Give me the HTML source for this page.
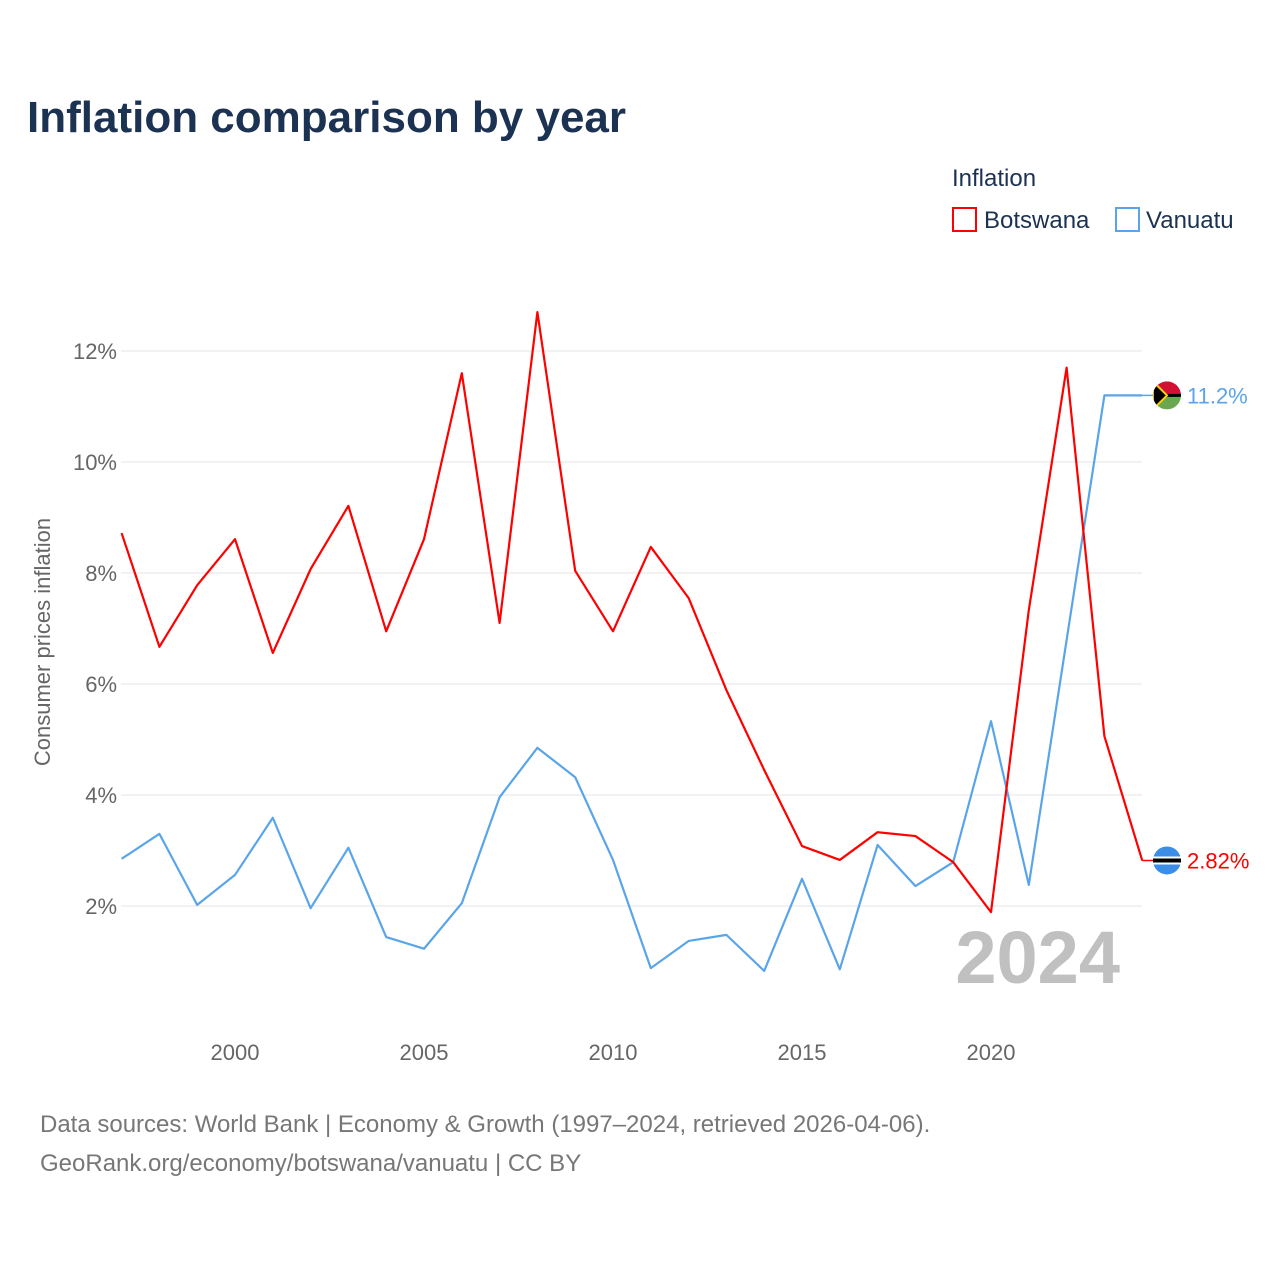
<!DOCTYPE html>
<html><head><meta charset="utf-8"><style>
body{margin:0;background:#fff;font-family:"Liberation Sans",sans-serif}
</style></head><body>
<svg width="1280" height="1280" xmlns="http://www.w3.org/2000/svg" font-family="Liberation Sans, sans-serif">
<text x="27" y="132" font-size="44" font-weight="bold" fill="#1b3252">Inflation comparison by year</text>
<text x="952" y="186" font-size="24" fill="#1b3252">Inflation</text>
<g><rect x="953" y="208" width="23" height="23" fill="none" stroke="#f00" stroke-width="2"/><text x="984" y="228" font-size="24" fill="#1b3252">Botswana</text></g>
<g><rect x="1116" y="208" width="23" height="23" fill="none" stroke="#5aa5ea" stroke-width="2"/><text x="1146" y="228" font-size="24" fill="#1b3252">Vanuatu</text></g>
<text transform="translate(50,642) rotate(-90)" text-anchor="middle" font-size="22" fill="#666">Consumer prices inflation</text>
<g id="grid"></g><g id="ticks"></g>
<text x="1120" y="983" text-anchor="end" font-size="74" font-weight="bold" fill="#c0c0c0">2024</text>
<g id="series"></g>
<text x="40" y="1132" font-size="24" fill="#777">Data sources: World Bank | Economy &amp; Growth (1997–2024, retrieved 2026-04-06).</text>
<text x="40" y="1171" font-size="24" fill="#777">GeoRank.org/economy/botswana/vanuatu | CC BY</text>
</svg>
<script>
const years=[1997,1998,1999,2000,2001,2002,2003,2004,2005,2006,2007,2008,2009,2010,2011,2012,2013,2014,2015,2016,2017,2018,2019,2020,2021,2022,2023,2024];
const botswana=[8.72,6.67,7.78,8.61,6.56,8.07,9.21,6.95,8.61,11.6,7.10,12.7,8.04,6.95,8.47,7.55,5.89,4.45,3.08,2.83,3.33,3.26,2.79,1.89,7.33,11.7,5.06,2.82];
const vanuatu=[2.85,3.30,2.02,2.56,3.59,1.96,3.05,1.44,1.23,2.05,3.96,4.85,4.32,2.83,0.88,1.37,1.48,0.83,2.49,0.86,3.10,2.36,2.79,5.33,2.38,6.79,11.2,11.2];
const yTicks=[2,4,6,8,10,12];
const xTicks=[2000,2005,2010,2015,2020];
const NS="http://www.w3.org/2000/svg";
const x=v=>121.6+(v-1997)*37.8;
const y=v=>1017-v*55.5;
function mk(t,a,p){const e=document.createElementNS(NS,t);for(const k in a)e.setAttribute(k,a[k]);p.appendChild(e);return e;}
const g=document.getElementById('grid'),tk=document.getElementById('ticks'),s=document.getElementById('series');
yTicks.forEach(v=>{
const l=mk('line',{x1:121,x2:1142,y1:y(v),y2:y(v),stroke:'#e6e6e6','stroke-width':1},g);


const t=mk('text',{x:117,y:y(v)+8,'text-anchor':'end','font-size':22,fill:'#666'},tk);t.textContent=v+'%';


});
xTicks.forEach(v=>{
const t=mk('text',{x:x(v),y:1060,'text-anchor':'middle','font-size':22,fill:'#666'},tk);t.textContent=v;


});
function line(d,c,name,lbl){
const pts=d.map((v,i)=>x(years[i])+','+y(v)).join(' ');
const p=mk('polyline',{points:pts,fill:'none',stroke:c,'stroke-width':2.2,'stroke-linejoin':'round'},s);


const last=d[d.length-1],ly=y(last);
mk('line',{x1:x(2024),x2:1160,y1:ly,y2:ly,stroke:c,'stroke-width':1.5},s);
const t=mk('text',{x:1187,y:ly+8,'font-size':22,fill:c},s);t.textContent=lbl;


return ly;
}
const vy=line(vanuatu,'#5aa5ea','vanuatu','11.2%');
const by=line(botswana,'#f00','botswana','2.82%');
// flags
const f1=mk('g',{},s);


mk('clipPath',{id:'c1'},f1).appendChild(Object.assign(document.createElementNS(NS,'circle'),{}));
f1.firstChild.firstChild.setAttribute('cx',1167);f1.firstChild.firstChild.setAttribute('cy',vy);f1.firstChild.firstChild.setAttribute('r',14);
const fg=mk('g',{'clip-path':'url(#c1)'},f1);
mk('rect',{x:1153,y:vy-14,width:28,height:14,fill:'#d21034'},fg);
mk('rect',{x:1153,y:vy,width:28,height:14,fill:'#6aa84f'},fg);
mk('rect',{x:1153,y:vy-1.5,width:28,height:3,fill:'#000'},fg);
mk('polygon',{points:`1153,${vy-14} 1167,${vy} 1153,${vy+14}`,fill:'#000',stroke:'#fdce12','stroke-width':2},fg);
const f2=mk('g',{},s);


mk('circle',{cx:1167,cy:by,r:14,fill:'#3c8de6'},f2);
mk('rect',{x:1153,y:by-4,width:28,height:8,fill:'#fff'},f2);
mk('rect',{x:1153,y:by-2,width:28,height:4,fill:'#000'},f2);
</script>
</body></html>
